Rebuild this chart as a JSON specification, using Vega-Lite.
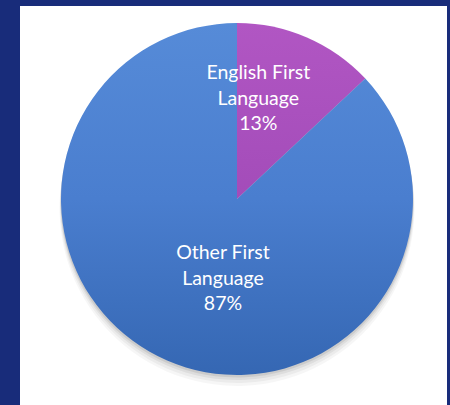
{
  "$schema": "https://vega.github.io/schema/vega-lite/v6.json",
  "width": 450,
  "height": 405,
  "autosize": {"type": "fit", "contains": "padding"},
  "padding": {"left": 20, "top": 6, "right": 3, "bottom": 0},
  "background": "#182c7a",
  "config": {"view": {"stroke": null}},
  "data": {
    "values": [
      {"category": "English First Language", "value": 13, "label": "English First\nLanguage\n13%"},
      {"category": "Other First Language", "value": 87, "label": "Other First\nLanguage\n87%"}
    ]
  },
  "layer": [
    {
      "mark": {"type": "rect", "color": "#ffffff"},
      "encoding": {}
    },
    {
      "mark": {"type": "arc", "outerRadius": 177.5, "xOffset": 3.5, "yOffset": 3, "color": "#000000", "opacity": 0.035},
      "encoding": {"theta": {"field": "value", "type": "quantitative", "stack": true}, "detail": {"field": "category", "type": "nominal"}}
    },
    {
      "mark": {"type": "arc", "outerRadius": 177, "xOffset": 3.5, "yOffset": 0.5, "color": "#000000", "opacity": 0.045},
      "encoding": {"theta": {"field": "value", "type": "quantitative", "stack": true}, "detail": {"field": "category", "type": "nominal"}}
    },
    {
      "mark": {"type": "arc", "outerRadius": 176.5, "xOffset": 3.5, "yOffset": -2, "color": "#000000", "opacity": 0.06},
      "encoding": {"theta": {"field": "value", "type": "quantitative", "stack": true}, "detail": {"field": "category", "type": "nominal"}}
    },
    {
      "mark": {"type": "arc", "outerRadius": 176.5, "xOffset": 3.5, "yOffset": -4.5, "color": "#000000", "opacity": 0.08},
      "encoding": {"theta": {"field": "value", "type": "quantitative", "stack": true}, "detail": {"field": "category", "type": "nominal"}}
    },
    {
      "mark": {"type": "arc", "outerRadius": 176, "xOffset": 3.5, "yOffset": -6.5},
      "encoding": {
        "theta": {"field": "value", "type": "quantitative", "stack": true},
        "detail": {"field": "category", "type": "nominal"},
        "color": {
          "condition": {
            "test": "datum.category === 'English First Language'",
            "value": {"gradient": "linear", "x1": 0, "y1": 0, "x2": 0, "y2": 1, "stops": [{"offset": 0, "color": "#b156c3"}, {"offset": 1, "color": "#a34cb9"}]}
          },
          "value": {"gradient": "linear", "x1": 0, "y1": 0, "x2": 0, "y2": 1, "stops": [{"offset": 0, "color": "#568bd8"}, {"offset": 0.5, "color": "#4a7ecf"}, {"offset": 1, "color": "#3567b3"}]}
        }
      }
    },
    {
      "mark": {"type": "text", "radius": 109, "xOffset": 3.5, "yOffset": -6.5, "dx": -22, "dy": -25.5, "font": "Lato", "fontSize": 19.5, "lineHeight": 25.5, "lineBreak": "\n", "color": "#ffffff", "align": "center", "baseline": "middle"},
      "encoding": {
        "theta": {"field": "value", "type": "quantitative", "stack": true},
        "detail": {"field": "category", "type": "nominal"},
        "text": {"condition": {"test": "datum.category === 'English First Language'", "field": "label"}, "value": ""}
      }
    },
    {
      "mark": {"type": "text", "radius": 87, "xOffset": 3.5, "yOffset": -6.5, "dx": 20.5, "dy": -25.5, "font": "Lato", "fontSize": 19.5, "lineHeight": 25.5, "lineBreak": "\n", "color": "#ffffff", "align": "center", "baseline": "middle"},
      "encoding": {
        "theta": {"field": "value", "type": "quantitative", "stack": true},
        "detail": {"field": "category", "type": "nominal"},
        "text": {"condition": {"test": "datum.category === 'Other First Language'", "field": "label"}, "value": ""}
      }
    }
  ]
}
